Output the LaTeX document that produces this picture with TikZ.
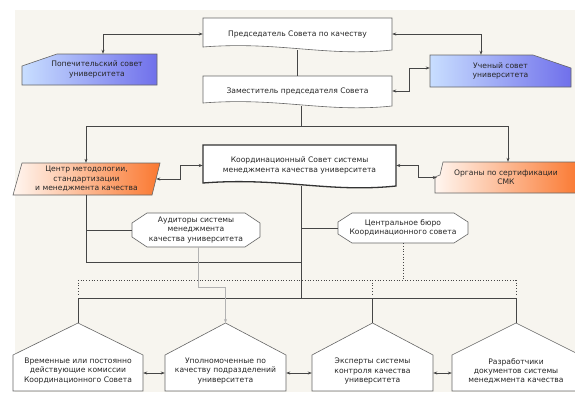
\documentclass[tikz,border=0pt]{standalone}
\usepackage{fontspec}
\setmainfont{DejaVu Sans}
\usetikzlibrary{arrows.meta,calc}
\pgfdeclarelayer{bg}
\pgfsetlayers{bg,main}
\definecolor{paper}{RGB}{247,245,239}
\definecolor{ink}{RGB}{70,70,70}
\definecolor{blueL}{RGB}{200,222,255}
\definecolor{blueR}{RGB}{112,112,235}
\definecolor{orangeL}{RGB}{255,246,240}
\definecolor{orangeR}{RGB}{250,120,48}
% box with wavy bottom edge: L R T B
\newcommand\wavybox[5][]{\path[#1] (#2,#4) -- (#3,#4) -- (#3,#5)
  .. controls ({#3-0.35*(#3-#2)},{#5+7}) and ({#2+0.4*(#3-#2)},{#5-9}) .. (#2,{#5-3}) -- cycle;}

\begin{document}
\begin{tikzpicture}[x=1pt,y=-1pt,
  >={Stealth[length=4pt,width=3pt]},
  every node/.style={font=\fontsize{7.6}{9.4}\selectfont, align=center, inner sep=0pt, text=black!85},
  link/.style={draw=ink, line width=0.6pt},
  outline/.style={draw=black!60, line width=0.6pt},
  grayline/.style={draw=black!30, line width=0.6pt},
  dotlink/.style={draw=ink, line width=0.7pt, dotted}]
  \useasboundingbox (0,0) rectangle (575,392);
  \clip (0,0) rectangle (575,392);

  \begin{pgfonlayer}{bg}
    \fill[paper] (15,10) rectangle (575,392);
    \wavybox[outline,fill=white]{203}{392}{18}{50}
    \wavybox[outline,fill=white]{203}{392}{76}{106}
    \wavybox[fill=white,draw=black!80,line width=1.3pt]{203}{396}{145}{186}
    \path[outline,left color=blueL,right color=blueR] (22,66) -- (57,54) -- (157,54) -- (157,85) -- (22,85) -- cycle;
    \path[outline,left color=blueL,right color=blueR] (430,55) -- (533,55) -- (571,68) -- (571,87) -- (430,87) -- cycle;
    \path[outline,left color=orangeL,right color=orangeR] (22,163) -- (160,163) -- (152,195) -- (13,195) -- cycle;
    \path[outline,left color=orangeL,right color=orangeR] (443,162) -- (580,162) -- (580,193) -- (435,193) -- (435,177) -- (440,175) -- cycle;
    \path[outline,fill=white] (147,213) -- (245,213) -- (260,223) -- (260,237) -- (245,247) -- (147,247) -- (132,237) -- (132,223) -- cycle;
    \path[outline,fill=white] (352,213) -- (454,213) -- (468,222) -- (468,234) -- (454,243) -- (352,243) -- (338,234) -- (338,222) -- cycle;
  \end{pgfonlayer}

  \node[minimum width=189pt, minimum height=32pt] (chair) at (297.5,34) {Председатель Совета по качеству};
  \node[minimum width=189pt, minimum height=30pt] (dep) at (297.5,91) {Заместитель председателя Совета};
  \node[minimum width=193pt, minimum height=41pt] (coord) at (299.5,165.5) {Координационный Совет системы\\менеджмента качества университета};
  \node[minimum width=120pt, minimum height=31pt] (trust) at (97,69.5) {Попечительский совет\\университета};
  \node[minimum width=141pt, minimum height=32pt] (uch) at (500.5,71) {Ученый совет\\университета};
  \node[minimum width=147pt, minimum height=32pt] (cmq) at (86.5,179) {Центр методологии,\\стандартизации\\и менеджмента качества};
  \node[minimum width=140pt, minimum height=31pt] (org) at (506,177.5) {Органы по сертификации\\СМК};
  \node[minimum width=128pt, minimum height=34pt] (aud) at (196,230) {Аудиторы системы\\менеджмента\\качества университета};
  \node[minimum width=130pt, minimum height=30pt] (bur) at (403,228) {Центральное бюро\\Координационного совета};

  \foreach \i/\cx/\hw/\txt in {1/78/65/{Временные или постоянно\\действующие комиссии\\Координационного Совета},
      2/225.5/60.5/{Уполномоченные по\\качеству подразделений\\университета},
      3/372.5/60.5/{Эксперты системы\\контроля качества\\университета},
      4/516/64/{Разработчики\\документов системы\\менеджмента качества}}{
    \begin{pgfonlayer}{bg}
      \path[outline,fill=white] ({\cx-\hw},355) -- (\cx,323) -- ({\cx+\hw},355) -- ({\cx+\hw},391) -- ({\cx-\hw},391) -- cycle;
    \end{pgfonlayer}
    \node[minimum width=2*\hw pt, minimum height=34pt] (b\i) at (\cx,371) {\txt};
    \coordinate (apex\i) at (\cx,323);
  }

  % upper links
  \draw[link,<->] ([xshift=6pt]trust.north) |- (chair.west);
  \draw[link,<->] (chair.east) -| ([xshift=-19.5pt]uch.north);
  \draw[link] (chair.south) -- (dep.north);
  \draw[link,<->] (dep.east) -- ++(17,0) |- ([yshift=3pt]uch.west);

  \coordinate (busL) at (86,126);
  \coordinate (busR) at (508,126);
  \coordinate (join) at (301,262);
  \coordinate (dbus) at (301,280);
  \coordinate (sbus) at (301,298);
  \draw[link] ([xshift=4pt]dep.south) -- ++(0,20);
  \draw[link] (busL) -- (busR);
  \draw[link,->] (busL) -- (busL |- cmq.north);
  \draw[link,->] (busR) -- (busR |- org.north);
  \draw[link,<->] (coord.west) -- ++(-23,0) |- ([xshift=-4pt]cmq.east);
  \draw[link,<->] (coord.east) -- ++(22,0) |- ([xshift=1pt]org.west);

  % middle
  \draw[link] (busL |- cmq.south) |- (join);
  \draw[link] (aud.west -| busL) -- (aud.west);
  \draw[link] ([xshift=1.5pt]coord.south) -- (sbus);
  \draw[link] (bur.west -| sbus) -- (bur.west);

  % lower buses
  \draw[dotlink] (bur.south) -- (bur.south |- dbus);
  \draw[dotlink] (dbus -| apex1) -- (dbus -| apex4);
  \foreach \i in {1,3,4}
    \draw[dotlink] (dbus -| apex\i) -- ++(0,15);
  \draw[link] (sbus -| apex1) -- (sbus -| apex4);
  \foreach \i in {1,3,4}
    \draw[link] (sbus -| apex\i) -- (apex\i);
  \draw[grayline,->] ([xshift=2pt]aud.south) -- ++(0,40) -| (apex2);
  \foreach \i/\j in {1/2,2/3,3/4}
    \draw[link,<->] ([yshift=-2pt]b\i.east) -- ([yshift=-2pt]b\j.west);
\end{tikzpicture}
\end{document}
